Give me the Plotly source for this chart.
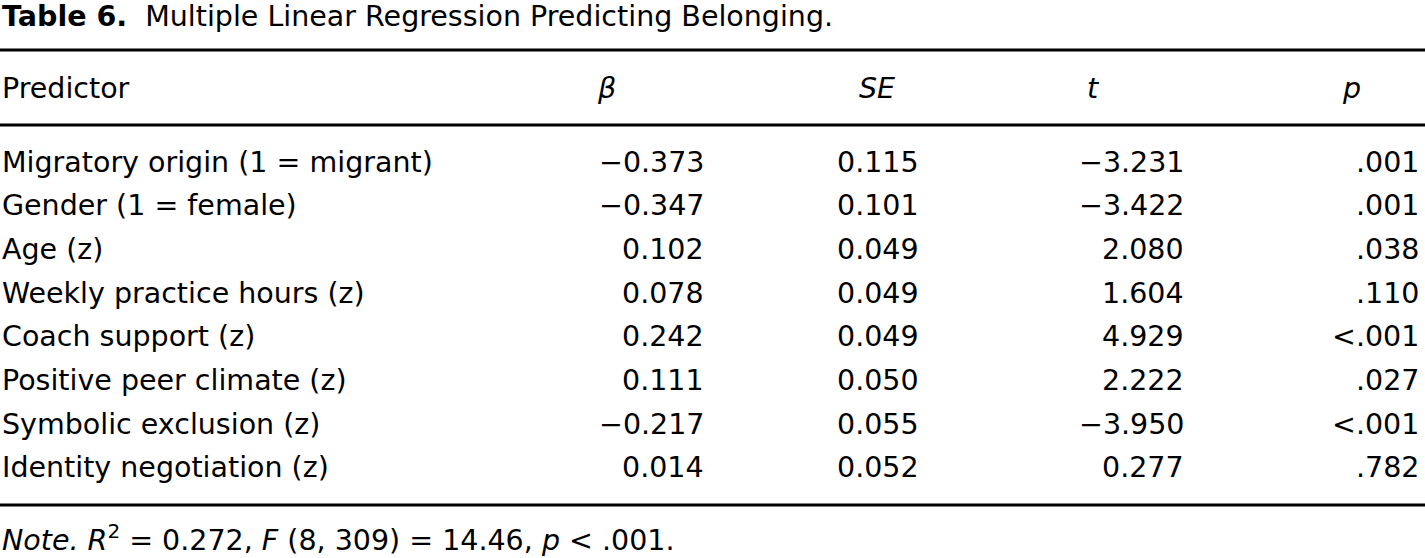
import plotly.graph_objects as go

# ---- data ----
predictors = [
    "Migratory origin (1 = migrant)",
    "Gender (1 = female)",
    "Age (z)",
    "Weekly practice hours (z)",
    "Coach support (z)",
    "Positive peer climate (z)",
    "Symbolic exclusion (z)",
    "Identity negotiation (z)",
]
beta = [-0.373, -0.347, 0.102, 0.078, 0.242, 0.111, -0.217, 0.014]
se = [0.115, 0.101, 0.049, 0.049, 0.049, 0.050, 0.055, 0.052]
t_vals = [-3.231, -3.422, 2.080, 1.604, 4.929, 2.222, -3.950, 0.277]
p_vals = [".001", ".001", ".038", ".110", "<.001", ".027", "<.001", ".782"]
headers = ["Predictor", "β", "SE", "t", "p"]
title_bold = "Table 6."
title_rest = "Multiple Linear Regression Predicting Belonging."
note = "<i>Note.</i> <i>R</i><sup>2</sup> = 0.272, <i>F</i> (8, 309) = 14.46, <i>p</i> &lt; .001."

# ---- layout constants ----
W, H = 1425, 558
FONT = "DejaVu Sans"
FS = 28.5
header_left = [0, 595, 857, 1085, 1340]
value_right = [None, 706, 921, 1186, 1421]
row0_y = 162
row_pitch = 43.7
header_y = 88
rules = [(50, 3), (125, 3), (505, 3)]


def fmt(v):
    return f"{v:.3f}".replace("-", "\u2212")


def esc(s):
    return s.replace("<", "&lt;")


fig = go.Figure()
fig.add_trace(go.Scatter(x=[0, W], y=[0, H], mode="markers",
                         marker=dict(opacity=0, size=1), hoverinfo="skip", showlegend=False))

ann = []


def add(text, x, y, xanchor="left", size=FS):
    ann.append(dict(text=text, x=x, y=y, xref="x", yref="y", xanchor=xanchor,
                    yanchor="middle", showarrow=False,
                    font=dict(family=FONT, size=size, color="black")))


# title
add(f"<b>{title_bold}</b>  {title_rest}", 0, 16)

# headers
for j, h in enumerate(headers):
    txt = h if j == 0 else f"<i>{h}</i>"
    add(txt, header_left[j], header_y)

# rows
cols = [beta, se, t_vals]
for i, name in enumerate(predictors):
    y = row0_y + i * row_pitch
    add(name, 0, y)
    for j, col in enumerate(cols, start=1):
        add(fmt(col[i]), value_right[j], y, xanchor="right")
    add(esc(p_vals[i]), value_right[4], y, xanchor="right")

# note
add(note, 0, 538)

shapes = [dict(type="line", xref="x", yref="y", x0=0, x1=W, y0=yy, y1=yy,
               line=dict(color="black", width=w)) for yy, w in rules]

fig.update_layout(
    width=W, height=H,
    margin=dict(l=0, r=0, t=0, b=0),
    paper_bgcolor="white", plot_bgcolor="white",
    xaxis=dict(range=[0, W], visible=False, fixedrange=True),
    yaxis=dict(range=[H, 0], visible=False, fixedrange=True),
    annotations=ann, shapes=shapes,
)

fig.write_html("out.html", config={"displayModeBar": False},
               post_script="document.body.style.margin='0';document.body.style.overflow='hidden';")
